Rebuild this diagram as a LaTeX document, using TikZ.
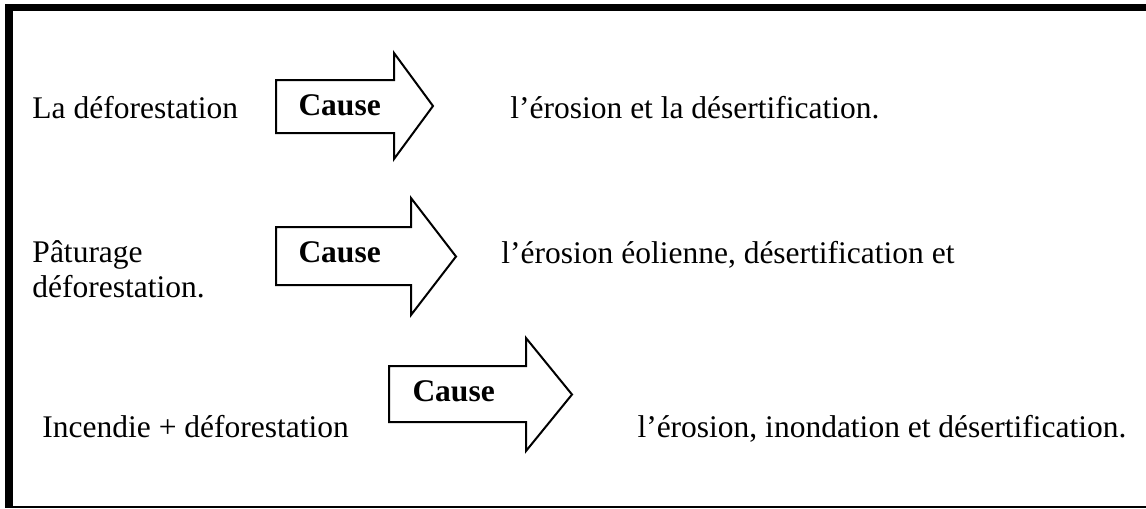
\documentclass[tikz,border=0pt]{standalone}
\usepackage{fontspec}
\setmainfont{Liberation Serif}
\usepackage{tikz}
\newcommand\rowsize{\fontsize{12.6}{14}\selectfont}
\tikzset{
  frame bar/.style={line width=2.8pt},
  frame rule/.style={line width=.6pt},
  cause arrow/.style={draw,line width=.8pt,line join=miter},
  cause label/.style={font=\rowsize\bfseries,inner sep=0pt,anchor=base west},
  side text/.style={font=\rowsize,inner sep=0pt,anchor=base west},
  effect text/.style={font=\rowsize,inner sep=0pt,anchor=base east}
}
\begin{document}
\begin{tikzpicture}[x=.4pt,y=-.4pt]
  \useasboundingbox (0,0) rectangle (1146,508);
  % frame
  \draw[frame bar] (5,7) -- (1146,7);
  \draw[frame bar] (9,4) -- (9,508);
  \draw[frame rule] (5,507) -- (1146,507);
  % first row
  \node[side text] (defo) at (32,118) {La déforestation};
  \draw[cause arrow] (276,80) -- (394,80) -- (394,53) -- (433,106) -- (394,159) -- (394,133) -- (276,133) -- cycle;
  \node[cause label] (cause1) at (298,115) {Cause};
  \node[effect text] (effect1) at (880,118) {l’érosion et la désertification.};
  % second row
  \node[side text] (patu) at (32,262) {Pâturage};
  \node[side text] (defo2) at (32,297) {déforestation.};
  \draw[cause arrow] (276,227) -- (411,227) -- (411,198) -- (456,256.5) -- (411,315) -- (411,285) -- (276,285) -- cycle;
  \node[cause label] (cause2) at (298,262) {Cause};
  \node[effect text] (effect2) at (955,263) {l’érosion éolienne, désertification et};
  % third row
  \node[side text] (incend) at (42,437) {Incendie + déforestation};
  \draw[cause arrow] (389,366) -- (526,366) -- (526,338) -- (572,394.5) -- (526,451) -- (526,422) -- (389,422) -- cycle;
  \node[cause label] (cause3) at (412,401) {Cause};
  \node[effect text] (effect3) at (1127,437) {l’érosion, inondation et désertification.};
\end{tikzpicture}
\end{document}
